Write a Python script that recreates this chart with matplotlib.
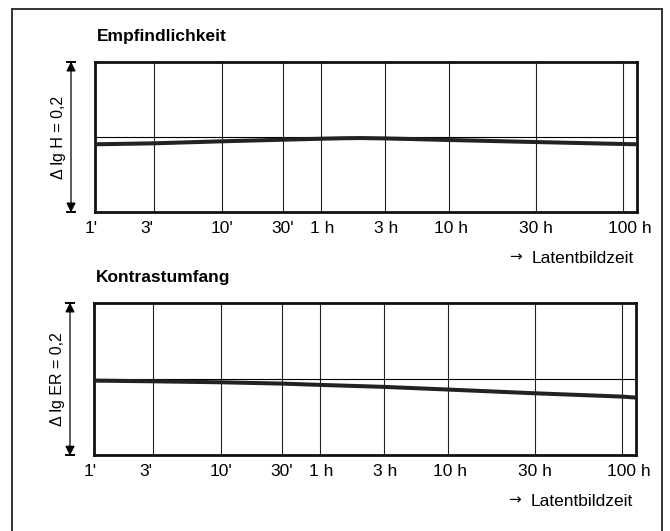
import numpy as np
import matplotlib
matplotlib.use('Agg')
import matplotlib.pyplot as plt
import matplotlib.patches as patches
from matplotlib.transforms import ScaledTranslation

plt.rcParams['font.family'] = ['Liberation Sans', 'DejaVu Sans']

# Latentbildzeit in Minuten
tick_minutes = [1, 3, 10, 30, 60, 180, 600, 1800, 6000]
tick_labels = ["1'", "3'", "10'", "30'", "1 h", "3 h", "10 h", "30 h", "100 h"]
x_end = 7300

# Empfindlichkeit: Abweichung in lg H
t_sens = [1, 3, 10, 30, 60, 90, 120, 180, 300, 600, 1800, 6000, 7300]
d_lgH = [-0.0097, -0.0084, -0.0057, -0.0036, -0.0023, -0.0016, -0.0014,
         -0.0019, -0.0027, -0.0040, -0.0067, -0.0093, -0.0097]

# Kontrastumfang: Abweichung in lg ER
t_contr = [1, 3, 10, 30, 60, 180, 600, 1800, 6000, 7300]
d_lgER = [-0.0020, -0.0029, -0.0042, -0.0059, -0.0076, -0.0102,
          -0.0137, -0.0186, -0.0229, -0.0242]

# nicht-logarithmische Skala der Vorlage (Lage der Gitterlinien)
grid_frac = [0, 0.109, 0.235, 0.347, 0.417, 0.535, 0.654, 0.814, 0.974, 1.0]
grid_log = np.log10(tick_minutes + [x_end])


def fwd(x):
    x = np.clip(np.asarray(x, dtype=float), 1e-9, None)
    return np.interp(np.log10(x), grid_log, grid_frac)


def inv(y):
    return 10 ** np.interp(np.asarray(y, dtype=float), grid_frac, grid_log)


fig = plt.figure(figsize=(6.7, 5.31), dpi=100)

# Rahmen um die ganze Abbildung
frame = patches.Rectangle((11.5 / 670, -0.02), 650.5 / 670, 1.02 - 9 / 531,
                          transform=fig.transFigure, fill=False,
                          edgecolor='#333333', linewidth=1.4)
fig.patches.append(frame)

panels = [
    ([0.1418, 0.6002, 0.8085, 0.2836], 'Empfindlichkeit', 'Δ lg H = 0,2',
     t_sens, d_lgH),
    ([0.1403, 0.1422, 0.8085, 0.2878], 'Kontrastumfang', 'Δ lg ER = 0,2',
     t_contr, d_lgER),
]

offsets = [-3, -5, 0, 0, 1, 1, 1, 0, 5]

for rect, title, ylab, tx, ty in panels:
    ax = fig.add_axes(rect)
    ax.set_xscale('function', functions=(fwd, inv))
    ax.set_xlim(1, x_end)
    ax.set_ylim(-0.1, 0.1)

    for t in tick_minutes[1:]:
        ax.axvline(t, color='#222222', linewidth=0.8, zorder=1)
    ax.axhline(0, color='black', linewidth=0.8, zorder=1)
    ax.plot(tx, ty, color='#222222', linewidth=2.9, solid_capstyle='butt',
            solid_joinstyle='round', zorder=3)

    ax.set_xticks(tick_minutes)
    ax.set_xticklabels(tick_labels, fontsize=12.5)
    ax.xaxis.set_minor_locator(plt.NullLocator())
    ax.tick_params(axis='x', length=0, pad=6)
    for lab, dx in zip(ax.get_xticklabels(), offsets):
        lab.set_transform(lab.get_transform() +
                          ScaledTranslation(dx / 72, 0, fig.dpi_scale_trans))
    ax.set_yticks([])
    for sp in ax.spines.values():
        sp.set_linewidth(2.0)
        sp.set_color('#111111')

    ax.text(0.003, 1.165, title, transform=ax.transAxes, fontsize=12.5,
            fontweight='bold', ha='left', va='center')

    # Doppelpfeil fuer die Skalenspanne 0,2
    xa = -0.0443
    ax.annotate('', xy=(xa, 0.0), xytext=(xa, 1.0), xycoords='axes fraction',
                arrowprops=dict(arrowstyle='<|-|>', color='black', lw=0.9,
                                shrinkA=0, shrinkB=0,
                                mutation_scale=14))
    for yy in (0.0, 1.0):
        ax.plot([xa - 0.008, xa + 0.008], [yy, yy], color='black', lw=1.4,
                transform=ax.transAxes, clip_on=False)
    ax.text(-0.068, 0.5, ylab, transform=ax.transAxes, rotation=90,
            fontsize=11.5, ha='center', va='center')

    xl = ax.annotate('Latentbildzeit', xy=(0.995, 0), xycoords='axes fraction',
                     xytext=(0, -33), textcoords='offset points',
                     ha='right', va='center', fontsize=12.5)
    ax.annotate('→', xy=(0, 0.5), xycoords=xl, xytext=(-7, 1),
                textcoords='offset points', ha='right', va='center',
                fontsize=11, family='DejaVu Sans')

fig.savefig('out.png', dpi=100)
